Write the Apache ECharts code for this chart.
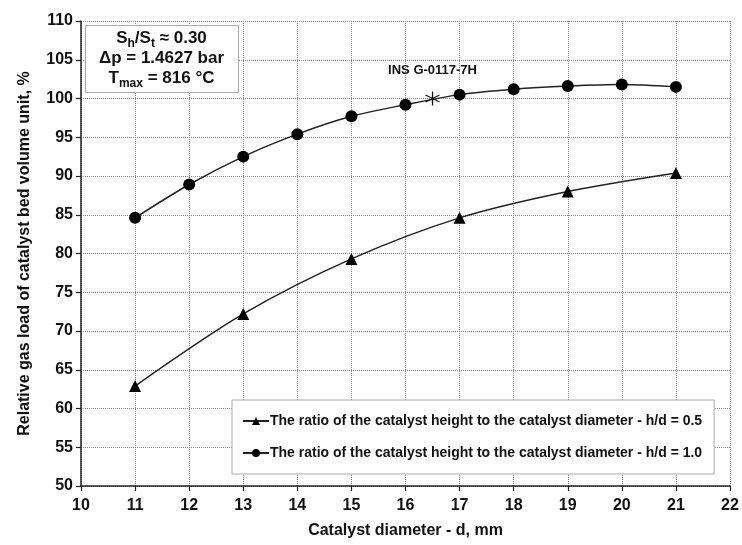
<!DOCTYPE html>
<html>
<head>
<meta charset="utf-8">
<script src="https://cdn.jsdelivr.net/npm/echarts@6/dist/echarts.min.js"></script>
<style>
    body { margin: 0; background: #fff; }
    #chart { width: 742px; height: 545px; }
</style>
</head>
<body>
<div id="chart"></div>
<script>
// h/d = 1.0 (circles)
const diametersHd10 = [11, 12, 13, 14, 15, 16, 17, 18, 19, 20, 21];
const loadHd10 = [84.6, 88.9, 92.5, 95.4, 97.7, 99.2, 100.5, 101.2, 101.6, 101.8, 101.5];
// h/d = 0.5 (triangles)
const diametersHd05 = [11, 13, 15, 17, 19, 21];
const loadHd05 = [62.9, 72.2, 79.3, 84.6, 88.0, 90.4];
// industrial catalyst point
const insPoint = [16.5, 100];
const insLabel = "INS G-0117-7H";

const nameHd05 = "The ratio of the catalyst height to the catalyst diameter - h/d = 0.5";
const nameHd10 = "The ratio of the catalyst height to the catalyst diameter - h/d = 1.0";

const font = "Liberation Sans, Arial, sans-serif";

function pairs(xs, ys) {
    let out = [];
    for (let i = 0; i < xs.length; i++) {
        out.push([xs[i], ys[i]]);
    }
    return out;
}

let chart = echarts.init(document.getElementById("chart"));

const subRich = {
    m: { fontSize: 17, fontWeight: "bold", fontFamily: font, fill: "#111", lineHeight: 24, verticalAlign: "middle" },
    s: { fontSize: 12, fontWeight: "bold", fontFamily: font, fill: "#111", lineHeight: 12, verticalAlign: "bottom" },
};

chart.setOption({
    animation: false,
    backgroundColor: "#fff",
    grid: {
        left: 81,
        right: 12,
        top: 21,
        bottom: 59,
    },
    legend: {
        orient: "vertical",
        left: 232,
        top: 400,
        padding: [14, 12, 14, 10],
        itemGap: 18,
        itemWidth: 26,
        itemHeight: 10,
        backgroundColor: "#fff",
        borderColor: "#aaa",
        borderWidth: 1,
        data: [nameHd05, nameHd10],
        textStyle: {
            fontFamily: font,
            fontWeight: "bold",
            fontSize: 14,
            color: "#111",
            padding: [0, 0, 0, -4],
        },
    },
    xAxis: {
        type: "value",
        min: 10,
        max: 22,
        interval: 1,
        name: "Catalyst diameter - d, mm",
        nameLocation: "middle",
        nameGap: 37,
        nameTextStyle: {
            fontFamily: font,
            fontWeight: "bold",
            fontSize: 16,
            color: "#111",
        },
        axisLine: { lineStyle: { color: "#222", width: 1.5 } },
        axisTick: { show: true, length: 5, lineStyle: { color: "#222", width: 1.2 } },
        axisLabel: {
            margin: 12,
            fontFamily: font,
            fontWeight: "bold",
            fontSize: 16,
            color: "#111",
        },
        splitLine: {
            show: true,
            lineStyle: { color: "#888", type: "dotted", width: 1 },
        },
    },
    yAxis: {
        type: "value",
        min: 50,
        max: 110,
        interval: 5,
        name: "Relative gas load of catalyst bed volume unit, %",
        nameLocation: "middle",
        nameGap: 48,
        nameTextStyle: {
            fontFamily: font,
            fontWeight: "bold",
            fontSize: 16,
            color: "#111",
        },
        axisLine: { show: true, lineStyle: { color: "#222", width: 1.5 } },
        axisTick: { show: true, length: 5, lineStyle: { color: "#222", width: 1.2 } },
        axisLabel: {
            margin: 8,
            fontFamily: font,
            fontWeight: "bold",
            fontSize: 16,
            color: "#111",
        },
        splitLine: {
            show: true,
            lineStyle: { color: "#888", type: "dotted", width: 1 },
        },
    },
    series: [
        {
            name: nameHd05,
            type: "line",
            smooth: 0.3,
            data: pairs(diametersHd05, loadHd05),
            symbol: "triangle",
            symbolSize: 12,
            lineStyle: { color: "#222", width: 1.5 },
            itemStyle: { color: "#000" },
        },
        {
            name: nameHd10,
            type: "line",
            smooth: 0.3,
            data: pairs(diametersHd10, loadHd10),
            symbol: "circle",
            symbolSize: 12,
            lineStyle: { color: "#222", width: 1.5 },
            itemStyle: { color: "#000" },
        },
        {
            type: "scatter",
            data: [insPoint],
            symbol: "path://M0,-10 L0,10 M-8.66,-5 L8.66,5 M-8.66,5 L8.66,-5",
            symbolSize: 14,
            itemStyle: { color: "none", borderColor: "#111", borderWidth: 1.3, opacity: 1 },
            label: {
                show: true,
                formatter: insLabel,
                position: "top",
                distance: 12,
                fontFamily: font,
                fontWeight: "bold",
                fontSize: 13,
                color: "#111",
            },
            z: 5,
        },
    ],
    graphic: [
        {
            type: "rect",
            left: 85,
            top: 25,
            shape: { width: 153, height: 67 },
            style: { fill: "#fff", stroke: "#aaa", lineWidth: 1 },
            z: 10,
        },
        {
            type: "text",
            x: 161.5,
            y: 38,
            z: 11,
            style: {
                text: "{m|S}{s|h}{m|/S}{s|t}{m| \u2248 0.30}",
                rich: subRich,
                align: "center",
                verticalAlign: "middle",
            },
        },
        {
            type: "text",
            x: 161.5,
            y: 58,
            z: 11,
            style: {
                text: "\u0394p = 1.4627 bar",
                font: "bold 17px " + font,
                fill: "#111",
                align: "center",
                verticalAlign: "middle",
            },
        },
        {
            type: "text",
            x: 161.5,
            y: 78,
            z: 11,
            style: {
                text: "{m|T}{s|max}{m| = 816 \u00b0C}",
                rich: subRich,
                align: "center",
                verticalAlign: "middle",
            },
        },
    ],
});

window.addEventListener("resize", function () {
    chart.resize();
});
</script>
</body>
</html>
